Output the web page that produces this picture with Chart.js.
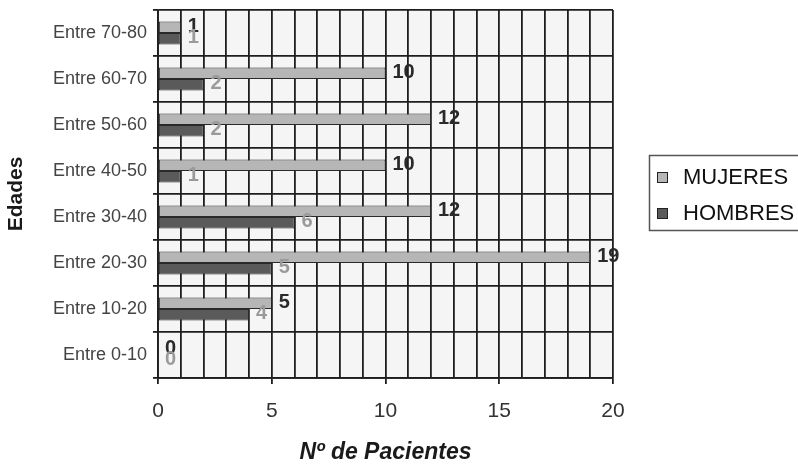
<!DOCTYPE html>
<html>
<head>
<meta charset="utf-8">
<script src="https://cdn.jsdelivr.net/npm/chart.js@4.4.1/dist/chart.umd.min.js"></script>
<style>
html,body{margin:0;padding:0;background:#fff;}
canvas{display:block;}
</style>
</head>
<body>
<canvas id="c" width="798" height="466"></canvas>
<script>
const categories = ['Entre 70-80','Entre 60-70','Entre 50-60','Entre 40-50','Entre 30-40','Entre 20-30','Entre 10-20','Entre 0-10'];
const mujeres = [1, 10, 12, 10, 12, 19, 5, 0];
const hombres = [1, 2, 2, 1, 6, 5, 4, 0];
const xTicks = [0, 5, 10, 15, 20];
const seriesNames = ['MUJERES', 'HOMBRES'];

const FONT = "'Liberation Sans', Arial, sans-serif";

const bgPlugin = {
  id: 'bg',
  beforeDraw(chart) {
    const {ctx, chartArea: a} = chart;
    ctx.save();
    ctx.fillStyle = '#f5f5f5';
    ctx.fillRect(a.left, a.top, a.right - a.left, a.bottom - a.top);
    ctx.restore();
  }
};

const labelPlugin = {
  id: 'vlabels',
  afterDatasetsDraw(chart) {
    const ctx = chart.ctx;
    const colors = ['#2a2a2a', '#9a9a9a'];
    ctx.save();
    ctx.font = 'bold 20px ' + FONT;
    ctx.textBaseline = 'middle';
    ctx.textAlign = 'left';
    chart.data.datasets.forEach((ds, i) => {
      const meta = chart.getDatasetMeta(i);
      meta.data.forEach((el, j) => {
        ctx.fillStyle = colors[i];
        ctx.fillText(String(ds.data[j]), el.x + 7, el.y - 1);
      });
    });
    ctx.restore();
  }
};

const legendPlugin = {
  id: 'customLegend',
  afterDraw(chart) {
    const ctx = chart.ctx;
    ctx.save();
    const bx = 649, by = 155, bw = 170, bh = 75;
    ctx.fillStyle = '#ffffff';
    ctx.fillRect(bx, by, bw, bh);
    ctx.strokeStyle = '#555';
    ctx.lineWidth = 1.5;
    ctx.strokeRect(bx + 0.5, by + 0.5, bw, bh);
    ctx.font = '22px ' + FONT;
    ctx.textBaseline = 'middle';
    chart.data.datasets.forEach((ds, i) => {
      const y = 177 + i * 36;
      ctx.fillStyle = ds.backgroundColor;
      ctx.fillRect(657, y - 5, 11, 11);
      ctx.strokeStyle = '#222';
      ctx.lineWidth = 1;
      ctx.strokeRect(657.5, y - 4.5, 10, 10);
      ctx.fillStyle = '#111';
      ctx.fillText(ds.label, 683, y + 1);
    });
    ctx.restore();
  }
};

new Chart(document.getElementById('c'), {
  type: 'bar',
  data: {
    labels: categories,
    datasets: [
      { label: seriesNames[0], data: mujeres, backgroundColor: '#b6b6b6', borderColor: '#2a2a2a', borderWidth: 1, borderSkipped: false, categoryPercentage: 0.5, barPercentage: 1.0 },
      { label: seriesNames[1], data: hombres, backgroundColor: '#5a5a5a', borderColor: '#2a2a2a', borderWidth: 1, borderSkipped: false, categoryPercentage: 0.5, barPercentage: 1.0 }
    ]
  },
  options: {
    indexAxis: 'y',
    responsive: false,
    animation: false,
    layout: { padding: { left: 0, right: 185, top: 10, bottom: 0 } },
    plugins: { legend: { display: false }, tooltip: { enabled: false } },
    scales: {
      x: {
        type: 'linear',
        min: 0, max: 20,
        afterFit(s) { s.height = 88; s.paddingLeft = 0; s.paddingRight = 0; },
        ticks: {
          stepSize: 1,
          autoSkip: false,
          maxRotation: 0,
          padding: 15,
          color: '#333',
          font: { family: FONT, size: 21 },
          callback: (v) => xTicks.includes(v) ? String(v) : ''
        },
        grid: {
          color: '#1e1e1e',
          lineWidth: 1.8,
          tickLength: 6,
          tickColor: (c) => (c.tick && xTicks.includes(c.tick.value)) ? '#1e1e1e' : 'rgba(0,0,0,0)'
        },
        border: { display: true, color: '#1e1e1e', width: 1.8 },
        title: {
          display: true,
          text: 'Nº de Pacientes',
          color: '#1a1a1a',
          font: { family: FONT, size: 23, weight: 'bold', style: 'italic' },
          padding: { top: 10, bottom: 0 }
        }
      },
      y: {
        type: 'category',
        offset: true,
        afterFit(s) { s.width = 158; s.paddingTop = 0; s.paddingBottom = 0; },
        ticks: {
          color: '#444',
          padding: 6,
          font: { family: FONT, size: 18 }
        },
        grid: {
          offset: true,
          color: '#1e1e1e',
          lineWidth: 1.8,
          tickLength: 5
        },
        border: { display: true, color: '#1e1e1e', width: 1.8 },
        title: {
          display: true,
          text: 'Edades',
          color: '#1a1a1a',
          font: { family: FONT, size: 21, weight: 'bold' },
          padding: { top: 4, bottom: 0 }
        }
      }
    }
  },
  plugins: [bgPlugin, labelPlugin, legendPlugin]
});
</script>
</body>
</html>
